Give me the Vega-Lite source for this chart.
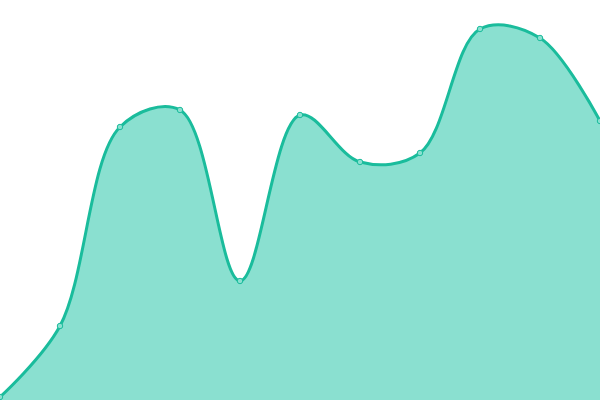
{
  "$schema": "https://vega.github.io/schema/vega-lite/v6.json",
  "width": 600,
  "height": 400,
  "padding": 0,
  "autosize": {"type": "none"},
  "config": {"view": {"stroke": null}},
  "data": {
    "values": [
      {"x": 0, "y": 3},
      {"x": 1, "y": 74},
      {"x": 2, "y": 273},
      {"x": 3, "y": 290},
      {"x": 4, "y": 119},
      {"x": 5, "y": 285},
      {"x": 6, "y": 238},
      {"x": 7, "y": 247},
      {"x": 8, "y": 371},
      {"x": 9, "y": 362},
      {"x": 10, "y": 279}
    ]
  },
  "encoding": {
    "x": {"field": "x", "type": "quantitative", "scale": {"domain": [0, 10], "nice": false, "zero": false}, "axis": null},
    "y": {"field": "y", "type": "quantitative", "scale": {"domain": [0, 400], "nice": false}, "axis": null}
  },
  "layer": [
    {"mark": {"type": "area", "interpolate": "catmull-rom", "color": "#8ae0d0"}},
    {"mark": {"type": "line", "interpolate": "catmull-rom", "color": "#1abc9c", "strokeWidth": 3}},
    {"mark": {"type": "point", "filled": true, "fill": "#8ae0d0", "stroke": "#1abc9c", "strokeWidth": 1, "size": 30, "opacity": 1}}
  ]
}
